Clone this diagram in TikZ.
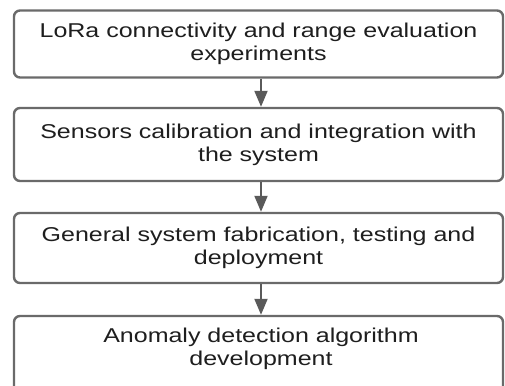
\documentclass[tikz,border=0pt]{standalone}
\usepackage{fontspec}
\setmainfont{Liberation Sans}[FakeStretch=1.25]
\usetikzlibrary{arrows.meta}
\definecolor{boxline}{HTML}{6A6A6A}
\definecolor{arrowc}{HTML}{5A5A5A}
\definecolor{txt}{HTML}{1E1E1E}
\tikzset{
  stepbox/.style={draw=boxline, line width=2.4pt, rounded corners=6pt, fill=white,
    minimum width=489pt, inner sep=0pt, align=center, text=txt,
    font=\fontsize{20pt}{23pt}\selectfont},
  flow/.style={draw=arrowc, line width=2pt, -{Triangle[length=16pt,width=13pt]}}
}
\begin{document}
\begin{tikzpicture}[x=1pt,y=1pt]
\useasboundingbox (0,0) rectangle (505,-385);
\clip (0,0) rectangle (505,-385);
\node[stepbox, minimum height=67pt] (b1) at (258.5,-44) {LoRa connectivity and range evaluation\\experiments};
\node[stepbox, minimum height=73pt] (b2) at (258.5,-144.5) {Sensors calibration and integration with\\the system};
\node[stepbox, minimum height=70pt] (b3) at (258.5,-248) {General system fabrication, testing and\\deployment};
\node[stepbox, minimum height=90pt] (b4) at (258.5,-361) {};
\node[align=center, text=txt, font=\fontsize{20pt}{23pt}\selectfont, inner sep=0pt] (t4) at (261,-349) {Anomaly detection algorithm\\development};
\draw[flow] (b1.south -| 261,0) -- (b2.north -| 261,0);
\draw[flow] (b2.south -| 261,0) -- (b3.north -| 261,0);
\draw[flow] (b3.south -| 261,0) -- (b4.north -| 261,0);
\end{tikzpicture}
\end{document}
